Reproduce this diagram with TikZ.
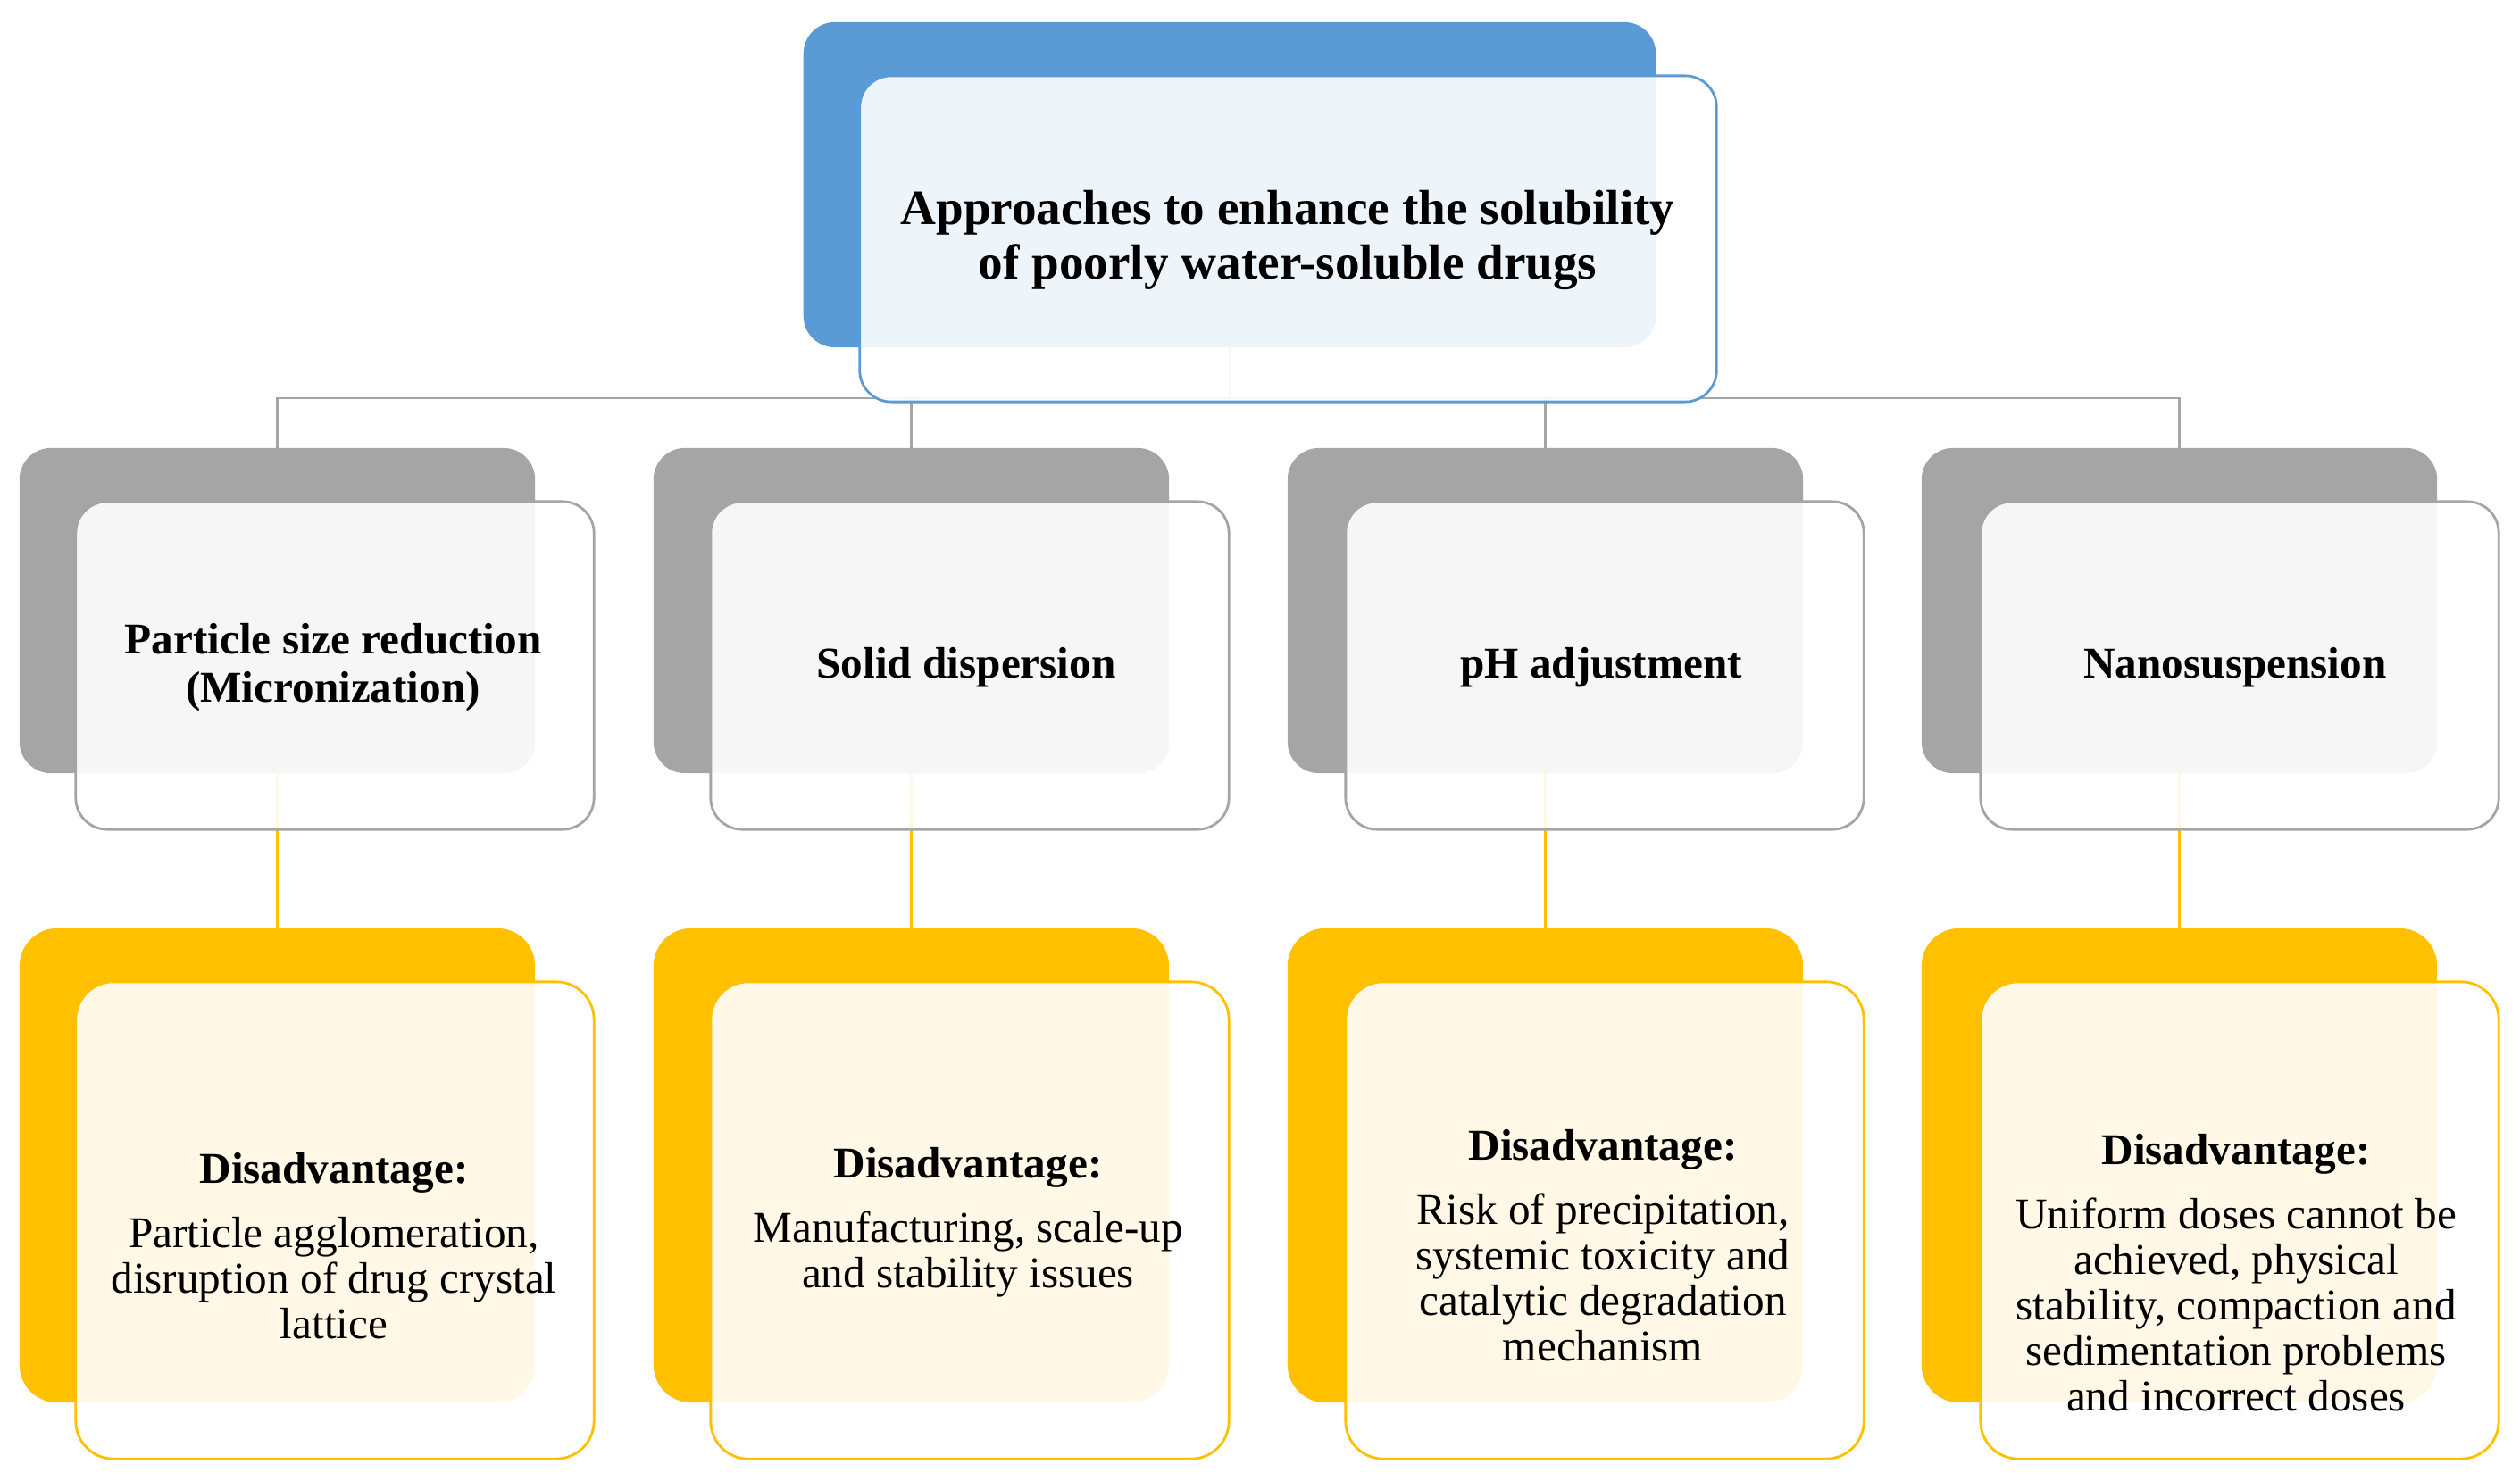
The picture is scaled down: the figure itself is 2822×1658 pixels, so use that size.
\documentclass[tikz,border=0pt]{standalone}
\usepackage{fontspec}
\setmainfont{Liberation Serif}
\definecolor{cblue}{HTML}{5B9BD5}
\definecolor{cgray}{HTML}{A5A5A5}
\definecolor{corange}{HTML}{FFC000}
\begin{document}
\begin{tikzpicture}[x=0.01cm,y=-0.01cm,
  box/.style={rectangle, rounded corners=10pt, inner sep=0pt, outer sep=0pt},
  backbox/.style={box, fill=#1},
  frontbox/.style={box, draw=#1, line width=0.8pt, fill=white, fill opacity=0.9},
  topback/.style={backbox=cblue, minimum width=9.54cm, minimum height=3.64cm},
  topfront/.style={frontbox=cblue, minimum width=9.59cm, minimum height=3.65cm},
  midback/.style={backbox=cgray, minimum width=5.77cm, minimum height=3.64cm},
  midfront/.style={frontbox=cgray, minimum width=5.80cm, minimum height=3.67cm},
  lowback/.style={backbox=corange, minimum width=5.77cm, minimum height=5.31cm, rounded corners=12pt},
  lowfront/.style={frontbox=corange, minimum width=5.80cm, minimum height=5.34cm, rounded corners=12pt},
  conn/.style={line width=0.8pt, draw=#1},
  titletext/.style={align=center, inner sep=0pt, font=\fontsize{15.7}{17.4}\selectfont\bfseries},
  midtext/.style={align=center, inner sep=0pt, font=\fontsize{14}{15.4}\selectfont\bfseries},
  lowtext/.style={align=center, inner sep=0pt, font=\fontsize{14}{14.5}\selectfont}
]
\path[use as bounding box] (0,0) rectangle (2822,1658);

% back boxes
\node[topback] (tb) at (1377,207) {};
\node[midback] (m1b) at (310.5,684) {};
\node[midback] (m2b) at (1020.5,684) {};
\node[midback] (m3b) at (1730.5,684) {};
\node[midback] (m4b) at (2440.5,684) {};
\node[lowback] (l1b) at (310.5,1305.5) {};
\node[lowback] (l2b) at (1020.5,1305.5) {};
\node[lowback] (l3b) at (1730.5,1305.5) {};
\node[lowback] (l4b) at (2440.5,1305.5) {};

% connectors
\coordinate (bus) at (1377,446);
\draw[conn=cgray] (tb.south) -- (bus);
\foreach \i in {1,2,3,4} {
  \draw[conn=cgray] (m\i b.north) |- (bus);
  \draw[conn=corange] (m\i b.south) -- (l\i b.north);
}

% front boxes
\node[topfront] (tf) at (1442.5,267.5) {};
\node[midfront] (m1f) at (375,745.5) {};
\node[midfront] (m2f) at (1086,745.5) {};
\node[midfront] (m3f) at (1797,745.5) {};
\node[midfront] (m4f) at (2508,745.5) {};
\node[lowfront] (l1f) at (375,1367) {};
\node[lowfront] (l2f) at (1086,1367) {};
\node[lowfront] (l3f) at (1797,1367) {};
\node[lowfront] (l4f) at (2508,1367) {};

% texts
\node[titletext] (tt) at (1442,269) {Approaches to enhance the solubility\\of poorly water-soluble drugs};
\node[midtext] (m1t) at (373,748) {Particle size reduction\\(Micronization)};
\node[midtext] (m2t) at (1082,748) {Solid dispersion};
\node[midtext] (m3t) at (1793,748) {pH adjustment};
\node[midtext] (m4t) at (2503,748) {Nanosuspension};
\node[lowtext] (l1t) at (374,1396) {\textbf{Disadvantage:}\\[6pt]Particle agglomeration,\\disruption of drug crystal\\lattice};
\node[lowtext] (l2t) at (1084,1369) {\textbf{Disadvantage:}\\[6pt]Manufacturing, scale-up\\and stability issues};
\node[lowtext] (l3t) at (1795,1395) {\textbf{Disadvantage:}\\[6pt]Risk of precipitation,\\systemic toxicity and\\catalytic degradation\\mechanism};
\node[lowtext] (l4t) at (2504,1426) {\textbf{Disadvantage:}\\[6pt]Uniform doses cannot be\\achieved, physical\\stability, compaction and\\sedimentation problems\\and incorrect doses};
\end{tikzpicture}
\end{document}
